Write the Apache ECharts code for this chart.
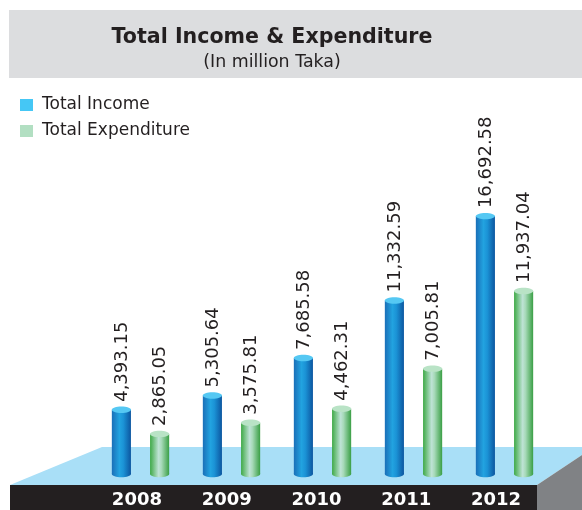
<!DOCTYPE html>
<html>
<head>
<meta charset="utf-8">
<script src="https://cdn.jsdelivr.net/npm/echarts@6/dist/echarts.min.js"></script>
<style>
  html, body { margin: 0; padding: 0; background: #ffffff; }
  #chart { width: 582px; height: 510px; }
</style>
</head>
<body>
<div id="chart"></div>
<script>
// Yearly totals, in million Taka
var years = ['2008', '2009', '2010', '2011', '2012'];
var totalIncome = [4393.15, 5305.64, 7685.58, 11332.59, 16692.58];
var totalExpenditure = [2865.05, 3575.81, 4462.31, 7005.81, 11937.04];

var FONT = '"DejaVu Sans", Verdana, sans-serif';
var INK = '#231f20';

function fmt(v) {
  return v.toLocaleString('en-US', { minimumFractionDigits: 2, maximumFractionDigits: 2 });
}

// Cylinder shaped bar: gradient body standing on the slab, rounded base and
// a flat cap ellipse at the value, with the value written vertically above it.
function cylinder(side, bodyStops, capColor) {
  return function (params, api) {
    var idx = api.value(0);
    var val = api.value(1);
    var top = api.coord([idx, val]);
    var base = api.coord([idx, 0]);
    var band = api.size([1, 0])[0];
    var w = band * 0.21;
    var cx = top[0] + side * w;
    var ry = 3.2;
    var foot = base[1] - 5;
    var body = new echarts.graphic.LinearGradient(0, 0, 1, 0, bodyStops);
    return {
      type: 'group',
      children: [
        { type: 'ellipse', shape: { cx: cx, cy: foot, rx: w / 2, ry: ry }, style: { fill: body } },
        { type: 'rect', shape: { x: cx - w / 2, y: top[1], width: w, height: foot - top[1] }, style: { fill: body } },
        { type: 'ellipse', shape: { cx: cx, cy: top[1], rx: w / 2, ry: ry }, style: { fill: capColor } },
        {
          type: 'text', x: cx + 1, y: top[1] - 8, rotation: Math.PI / 2,
          style: { text: fmt(val), fill: INK, font: '18px ' + FONT, align: 'left', verticalAlign: 'middle' }
        }
      ]
    };
  };
}

function pairs(arr) {
  return arr.map(function (v, i) { return [i, v]; });
}

var chart = echarts.init(document.getElementById('chart'), null, { renderer: 'canvas' });

chart.setOption({
  animation: false,
  backgroundColor: '#ffffff',
  title: {
    text: 'Total Income & Expenditure',
    subtext: '(In million Taka)',
    left: 267,
    top: 22,
    textAlign: 'center',
    itemGap: 6,
    textStyle: { fontFamily: FONT, fontWeight: 'bold', fontSize: 20.6, color: INK },
    subtextStyle: { fontFamily: FONT, fontSize: 17.4, color: INK }
  },
  legend: {
    orient: 'vertical',
    left: 15,
    top: 91,
    itemWidth: 13,
    itemHeight: 12,
    itemGap: 8,
    icon: 'rect',
    textStyle: { fontFamily: FONT, fontSize: 17, color: INK, lineHeight: 18, padding: [0, 0, 0, 4] },
    data: ['Total Income', 'Total Expenditure']
  },
  graphic: [
    // heading band
    { type: 'rect', z: 0, shape: { x: 9, y: 10, width: 573, height: 68 }, style: { fill: '#dcdddf' } },
    // floor slab: top face, front edge and right side
    { type: 'polygon', z: 0, shape: { points: [[10, 485], [102, 447], [582, 447], [582, 455], [537, 485]] }, style: { fill: '#a9dff7' } },
    { type: 'rect', z: 0, shape: { x: 10, y: 485, width: 527, height: 25 }, style: { fill: '#231f20' } },
    { type: 'polygon', z: 0, shape: { points: [[537, 485], [582, 455], [582, 510], [537, 510]] }, style: { fill: '#808285' } }
  ],
  grid: [
    { left: 95, right: 32, top: 164, bottom: 31 },
    { left: 92, right: 41, top: 164, bottom: 31 }
  ],
  xAxis: [
    {
      type: 'category', gridIndex: 0, data: years, boundaryGap: true,
      axisLine: { show: false }, axisTick: { show: false }, axisLabel: { show: false }, splitLine: { show: false }
    },
    {
      type: 'category', gridIndex: 1, data: years, boundaryGap: true,
      axisLine: { show: false }, axisTick: { show: false }, splitLine: { show: false },
      axisLabel: { color: '#ffffff', fontFamily: FONT, fontWeight: 'bold', fontSize: 18, margin: 12 }
    }
  ],
  yAxis: [
    { type: 'value', gridIndex: 0, min: 0, max: 20000, show: false },
    { type: 'value', gridIndex: 1, min: 0, max: 20000, show: false }
  ],
  series: [
    {
      name: 'Total Income',
      type: 'custom',
      xAxisIndex: 0, yAxisIndex: 0,
      itemStyle: { color: '#45c7f5' },
      renderItem: cylinder(-1, [
        { offset: 0, color: '#1a6fb8' },
        { offset: 0.4, color: '#22a3e0' },
        { offset: 0.6, color: '#1b93d6' },
        { offset: 1, color: '#0c56a0' }
      ], '#55c8f3'),
      data: pairs(totalIncome)
    },
    {
      name: 'Total Expenditure',
      type: 'custom',
      xAxisIndex: 0, yAxisIndex: 0,
      itemStyle: { color: '#b2dfc2' },
      renderItem: cylinder(1, [
        { offset: 0, color: '#3ea946' },
        { offset: 0.45, color: '#bfe3d6' },
        { offset: 0.6, color: '#a6d9b8' },
        { offset: 1, color: '#3a9f45' }
      ], '#b9e3c6'),
      data: pairs(totalExpenditure)
    }
  ]
});
</script>
</body>
</html>
